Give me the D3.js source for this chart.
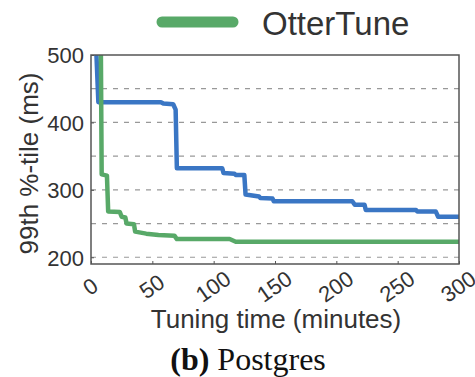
<!DOCTYPE html>
<html lang="en">
<head>
<meta charset="UTF-8">
<title>Postgres tuning</title>
<script src="https://cdn.jsdelivr.net/npm/d3@7"></script>
<style>
  body { margin: 0; background: #fff; }
  text { font-family: "Liberation Sans", Arial, sans-serif; fill: #333; }
</style>
</head>
<body>
<script>
// data
const blueTime  = [4, 6, 57, 59, 67, 69, 70, 107, 108, 117, 118, 125, 126, 137, 138, 148, 149, 213, 215, 223, 224, 265, 266, 281, 283, 300];
const blueValue = [520, 430, 430, 428, 427, 419, 332, 332, 325, 324, 322, 322, 293, 290, 288, 287, 283, 283, 278, 278, 270, 270, 268, 268, 260, 260];
const greenTime  = [8, 8.7, 13, 14, 23.5, 25, 28, 29, 35, 36, 45, 55, 68, 70, 113, 118, 300];
const greenValue = [520, 323, 321, 268, 267, 260, 259, 250, 249, 238, 235, 233, 232, 227, 227, 223, 223];
const xTicks = [0, 50, 100, 150, 200, 250, 300];
const yTicks = [200, 300, 400, 500];
const yGrid = [200, 250, 300, 350, 400, 450];
const legendName = "OtterTune";

const W = 475, H = 377;
const m = { left: 91, right: 16, top: 55, bottom: 113 };

const svg = d3.select("body").append("svg").attr("width", W).attr("height", H);

const x = d3.scaleLinear().domain([0, 300]).range([m.left, W - m.right]);
const y = d3.scaleLinear().domain([190, 500]).range([H - m.bottom, m.top]);

svg.append("defs").append("clipPath").attr("id", "plot")
  .append("rect")
  .attr("x", m.left).attr("y", m.top)
  .attr("width", x(300) - x(0)).attr("height", y(190) - y(500));

// grid
svg.append("g").selectAll("line").data(yGrid).join("line")
  .attr("x1", x(0)).attr("x2", x(300))
  .attr("y1", d => y(d)).attr("y2", d => y(d))
  .attr("stroke", "#999").attr("stroke-width", 1.2)
  .attr("stroke-dasharray", "5,6");

// lines
const line = d3.line().x(d => x(d[0])).y(d => y(d[1]));
const plot = svg.append("g").attr("clip-path", "url(#plot)");
plot.append("path")
  .datum(blueTime.map((t, i) => [t, blueValue[i]]))
  .attr("d", line).attr("fill", "none")
  .attr("stroke", "#3a76c4").attr("stroke-width", 4.5).attr("stroke-linejoin", "round");
plot.append("path")
  .datum(greenTime.map((t, i) => [t, greenValue[i]]))
  .attr("d", line).attr("fill", "none")
  .attr("stroke", "#58a968").attr("stroke-width", 4.5).attr("stroke-linejoin", "round");

// frame
svg.append("rect")
  .attr("x", m.left).attr("y", m.top)
  .attr("width", x(300) - x(0)).attr("height", y(190) - y(500))
  .attr("fill", "none").attr("stroke", "#555").attr("stroke-width", 1.5);

// y axis
const yAxis = svg.append("g").attr("transform", `translate(${m.left},0)`)
  .call(d3.axisLeft(y).tickValues(yTicks).tickSize(-3).tickPadding(7));
yAxis.select(".domain").remove();
yAxis.selectAll("line").attr("stroke", "#555");
yAxis.selectAll("text").style("font-size", "22px").attr("fill", "#333").attr("dy", "0.36em");

// x axis
const xAxis = svg.append("g").attr("transform", `translate(0,${y(190)})`)
  .call(d3.axisBottom(x).tickValues(xTicks).tickSize(-3).tickPadding(0));
xAxis.select(".domain").remove();
xAxis.selectAll("line").attr("stroke", "#555");
xAxis.selectAll("text")
  .style("font-size", "22px").attr("fill", "#333")
  .attr("text-anchor", "middle")
  .attr("dy", null).attr("y", null)
  .attr("transform", "translate(0,24) rotate(-35)")
  .attr("dominant-baseline", "middle");

// axis titles
svg.append("text")
  .attr("transform", `translate(38,${(y(190) + y(500)) / 2 + 4}) rotate(-90)`)
  .attr("text-anchor", "middle")
  .style("font-size", "26px")
  .text("99th %-tile (ms)");
svg.append("text")
  .attr("x", 276).attr("y", 328)
  .attr("text-anchor", "middle")
  .style("font-size", "26px")
  .text("Tuning time (minutes)");

// caption
const cap = svg.append("text")
  .attr("x", 248).attr("y", 370)
  .attr("text-anchor", "middle")
  .style("font-family", "'Liberation Serif', 'Times New Roman', serif")
  .style("font-size", "32px")
  .style("fill", "#111");
cap.append("tspan").style("font-weight", "bold").text("(b)");
cap.append("tspan").text(" Postgres");

// legend
svg.append("line")
  .attr("x1", 162).attr("x2", 233).attr("y1", 22).attr("y2", 22)
  .attr("stroke", "#58a968").attr("stroke-width", 11).attr("stroke-linecap", "round");
svg.append("text")
  .attr("x", 262).attr("y", 35)
  .style("font-size", "33px")
  .text(legendName);
</script>
</body>
</html>
